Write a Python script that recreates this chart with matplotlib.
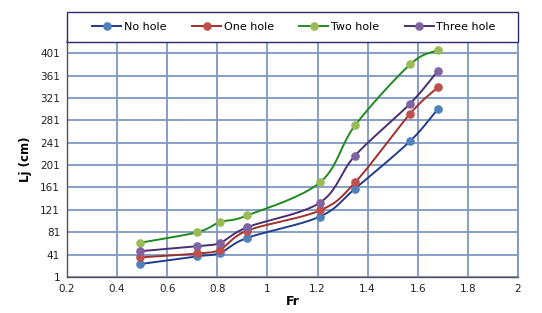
import numpy as np
import matplotlib
matplotlib.use("Agg")
import matplotlib.pyplot as plt
from matplotlib.lines import Line2D
from matplotlib.patches import Rectangle

fr = [0.49, 0.72, 0.81, 0.92, 1.21, 1.35, 1.57, 1.68]
no_hole = [24, 38, 44, 71, 109, 159, 244, 301]
one_hole = [36, 43, 50, 84, 120, 170, 293, 340]
two_hole = [62, 81, 99, 111, 170, 272, 381, 407]
three_hole = [47, 56, 62, 90, 134, 218, 311, 369]
labels = ["No hole", "One hole", "Two hole", "Three hole"]
xticks = [0.2, 0.4, 0.6, 0.8, 1, 1.2, 1.4, 1.6, 1.8, 2]
yticks = [1, 41, 81, 121, 161, 201, 241, 281, 321, 361, 401]

series = [no_hole, one_hole, two_hole, three_hole]
line_colors = ["#1F3D8C", "#A0302C", "#1E8A1E", "#4A2F6E"]
marker_colors = ["#4F81BD", "#C0504D", "#9BBB59", "#8064A2"]


def smooth(x, y, n=20):
    x = np.asarray(x, float)
    y = np.asarray(y, float)
    px = np.concatenate([[2 * x[0] - x[1]], x, [2 * x[-1] - x[-2]]])
    py = np.concatenate([[2 * y[0] - y[1]], y, [2 * y[-1] - y[-2]]])
    xs, ys = [], []
    t = np.linspace(0, 1, n)
    for i in range(1, len(px) - 2):
        p0, p1, p2, p3 = (np.array([px[j], py[j]]) for j in range(i - 1, i + 3))
        c1 = p1 + (p2 - p0) / 6
        c2 = p2 - (p3 - p1) / 6
        for tt in t:
            b = ((1 - tt) ** 3) * p1 + 3 * ((1 - tt) ** 2) * tt * c1 + 3 * (1 - tt) * tt ** 2 * c2 + tt ** 3 * p2
            xs.append(b[0])
            ys.append(b[1])
    return xs, ys


fig = plt.figure(figsize=(5.42, 3.13), dpi=100)
ax = fig.add_axes([0.1236, 0.115, 0.832, 0.751])

for ys, lc, mc in zip(series, line_colors, marker_colors):
    sx, sy = smooth(fr, ys)
    ax.plot(sx, sy, color=lc, lw=1.4, zorder=3)
    ax.plot(fr, ys, ls="none", marker="o", ms=5.2, mfc=mc, mec=mc, zorder=4)

ax.set_xlim(0.2, 2)
ax.set_ylim(1, 421)
ax.set_xticks(xticks)
ax.set_xticklabels([f"{v:g}" for v in xticks])
ax.set_yticks(yticks)
ax.grid(True, color="#7F96C2", lw=1.3)
ax.set_axisbelow(True)
ax.tick_params(length=0, labelsize=7.5, colors="#222222", pad=5)
for s in ["top", "right"]:
    ax.spines[s].set_color("#7F96C2")
    ax.spines[s].set_linewidth(1.3)
for s in ["left", "bottom"]:
    ax.spines[s].set_color("#555555")
    ax.spines[s].set_linewidth(1.0)

ax.set_xlabel("Fr", fontsize=9, fontweight="bold", labelpad=1)
ax.set_ylabel("Lj (cm)", fontsize=8.5, fontweight="bold", labelpad=6)

# legend box
box = Rectangle((0.1236, 0.866), 0.832, 0.096, transform=fig.transFigure,
                fill=True, facecolor="white", edgecolor="#2B2B6B", lw=1.0, zorder=5)
fig.patches.append(box)

handles = [Line2D([0], [0], color=lc, lw=1.4, marker="o", ms=5.2, mfc=mc, mec=mc)
           for lc, mc in zip(line_colors, marker_colors)]
leg = fig.legend(handles, labels, loc="center", ncol=4,
                 bbox_to_anchor=(0.1236 + 0.416 + 0.003, 0.866 + 0.048),
                 fontsize=8, frameon=False, handlelength=2.6,
                 handletextpad=0.25, columnspacing=2.3, borderaxespad=0,
                 borderpad=0)
leg.set_zorder(6)

fig.savefig("out.png", dpi=100)
